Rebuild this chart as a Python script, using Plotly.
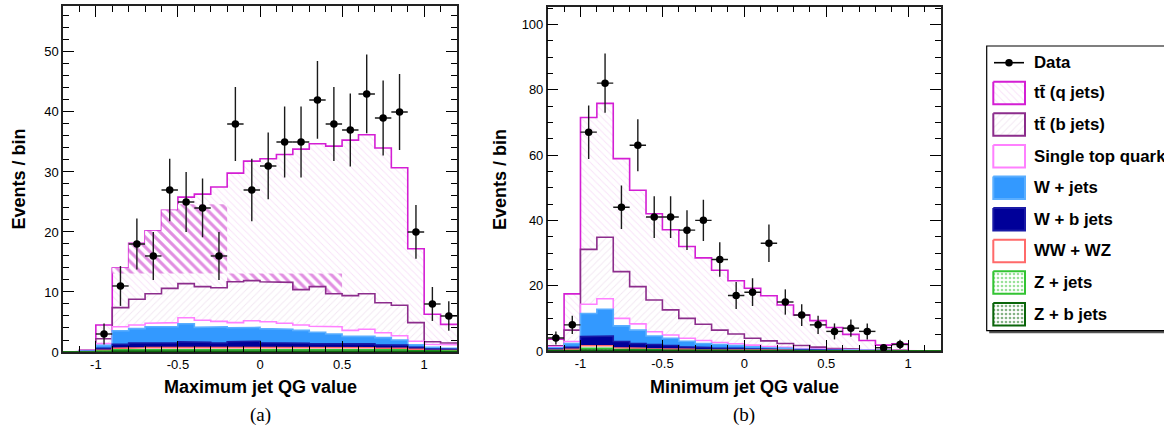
import numpy as np
import plotly.graph_objects as go

# ---------------------------------------------------------------------------
# Binning: 24 bins of width 0.1 on [-1.2, 1.2]
# ---------------------------------------------------------------------------
bin_edges = np.round(np.linspace(-1.2, 1.2, 25), 3)
bin_centers = 0.5 * (bin_edges[:-1] + bin_edges[1:])

# ---------------------------------------------------------------------------
# (a) Maximum jet QG value -- expected yields per process and observed data
# ---------------------------------------------------------------------------
max_data = [0, 0, 3, 11, 18, 16, 27, 25, 24, 16, 38, 27, 31, 35, 35, 42, 38, 37, 43, 39, 40, 20, 8, 6]
max_ttq = [0, 0.05, 2.3, 6.6, 9.3, 10.5, 13.0, 14.4, 15.4, 16.8, 18.1, 19.9, 20.5, 21.3, 23.4, 23.8, 24.6, 25.9, 26.5, 25.8, 22.9, 12.3, 4.6, 3.1]
max_ttb = [0, 0.05, 0.8, 3.2, 4.3, 4.9, 5.7, 5.7, 5.6, 5.6, 6.8, 6.7, 6.65, 6.8, 5.9, 6.6, 5.5, 5.8, 5.9, 5.0, 5.1, 3.1, 0.4, 0.3]
max_single_top = [0, 0.05, 0.3, 0.65, 0.6, 0.6, 0.7, 1.0, 1.2, 0.9, 0.85, 1.1, 1.15, 1.0, 0.9, 1.0, 1.2, 1.0, 1.2, 0.8, 0.7, 0.6, 0.5, 0.6]
max_wjets = [0, 0.05, 0.5, 2.25, 2.4, 2.65, 2.7, 3.0, 2.5, 2.7, 2.35, 2.3, 2.35, 2.3, 2.15, 1.9, 1.6, 1.3, 1.25, 1.2, 0.85, 0.4, 0.25, 0.15]
max_wbjets = [0, 0.05, 0.3, 0.7, 0.8, 0.8, 0.75, 0.9, 0.85, 0.75, 0.9, 1.0, 0.8, 0.75, 0.7, 0.7, 0.7, 0.6, 0.65, 0.55, 0.55, 0.35, 0.25, 0.2]
max_wwwz = [0, 0.02, 0.15, 0.25, 0.3, 0.3, 0.3, 0.35, 0.3, 0.3, 0.35, 0.35, 0.3, 0.3, 0.3, 0.3, 0.3, 0.3, 0.3, 0.25, 0.25, 0.2, 0.1, 0.1]
max_zjets = [0, 0.02, 0.1, 0.2, 0.25, 0.25, 0.25, 0.25, 0.25, 0.25, 0.25, 0.25, 0.25, 0.25, 0.25, 0.2, 0.2, 0.2, 0.2, 0.2, 0.2, 0.15, 0.1, 0.1]
max_zbjets = [0, 0.01, 0.05, 0.15, 0.15, 0.2, 0.2, 0.2, 0.2, 0.2, 0.2, 0.2, 0.2, 0.2, 0.2, 0.2, 0.2, 0.2, 0.2, 0.2, 0.15, 0.1, 0.1, 0.05]

# ---------------------------------------------------------------------------
# (b) Minimum jet QG value
# ---------------------------------------------------------------------------
min_data = [4, 8, 67, 82, 44, 63, 41, 41, 37, 40, 28, 17, 18, 33, 15, 11, 8, 6, 7, 6, 1, 2, 0, 0]
min_ttq = [2.0, 11.1, 40.4, 41.0, 34.6, 29.5, 26.4, 24.5, 22.0, 20.3, 18.3, 16.3, 15.3, 13.8, 11.8, 9.3, 8.1, 6.4, 4.5, 2.8, 1.5, 2.0, 0, 0]
min_ttb = [0.3, 3.5, 16.8, 18.8, 14.3, 11.4, 9.7, 7.7, 6.1, 5.0, 3.8, 3.0, 2.1, 1.7, 1.2, 0.9, 0.6, 0.3, 0.2, 0.1, 0.1, 0.1, 0, 0]
min_single_top = [0.3, 0.6, 2.8, 3.2, 2.3, 1.9, 1.3, 1.0, 0.9, 0.9, 0.6, 0.5, 0.5, 0.4, 0.3, 0.2, 0.2, 0.15, 0.1, 0.1, 0.05, 0, 0, 0]
min_wjets = [0.4, 1.2, 7.1, 8.2, 4.8, 4.1, 2.6, 2.2, 1.7, 1.2, 1.1, 0.9, 0.65, 0.5, 0.4, 0.3, 0.15, 0.15, 0.15, 0.1, 0.05, 0.05, 0, 0]
min_wbjets = [0.4, 0.55, 2.8, 3.0, 1.9, 1.5, 1.3, 1.15, 0.8, 0.7, 0.5, 0.5, 0.4, 0.3, 0.2, 0.15, 0.15, 0.11, 0.08, 0.04, 0.06, 0.03, 0, 0]
min_wwwz = [0.1, 0.3, 0.8, 0.8, 0.5, 0.4, 0.35, 0.3, 0.25, 0.2, 0.2, 0.15, 0.15, 0.1, 0.1, 0.07, 0.05, 0.05, 0.03, 0.03, 0.02, 0.01, 0, 0]
min_zjets = [0.05, 0.15, 0.5, 0.5, 0.3, 0.25, 0.2, 0.15, 0.15, 0.1, 0.1, 0.1, 0.05, 0.05, 0.05, 0.05, 0.03, 0.02, 0.02, 0.02, 0.01, 0.01, 0, 0]
min_zbjets = [0.05, 0.1, 0.3, 0.3, 0.2, 0.15, 0.15, 0.1, 0.1, 0.1, 0.1, 0.05, 0.05, 0.05, 0.05, 0.03, 0.02, 0.02, 0.02, 0.01, 0.01, 0, 0, 0]

# Axis tick labels
x_tick_vals = [-1, -0.5, 0, 0.5, 1]
x_tick_text = ["-1", "-0.5", "0", "0.5", "1"]
max_y_tick_vals = [0, 10, 20, 30, 40, 50]
min_y_tick_vals = [0, 20, 40, 60, 80, 100]

legend_labels = ["Data", "tt\u0304 (q jets)", "tt\u0304 (b jets)", "Single top quark",
                 "W + jets", "W + b jets", "WW + WZ", "Z + jets", "Z + b jets"]

# ---------------------------------------------------------------------------
# Styles (stack order: bottom -> top)
# ---------------------------------------------------------------------------
STACK_KEYS = ["zb", "zj", "ww", "wb", "wj", "st", "ttb", "ttq"]
STYLE = {
    "ttq": dict(line="#d41ed4", fill="white", pattern=dict(shape="\\", fgcolor="#f2c4f2", bgcolor="white", size=5, solidity=0.18)),
    "ttb": dict(line="#8c2d8c", fill="white", pattern=dict(shape="/", fgcolor="#e6d0e6", bgcolor="white", size=5, solidity=0.18)),
    "st":  dict(line="#ff80ff", fill="white", pattern=None),
    "wj":  dict(line="#5aaeff", fill="#3399ff", pattern=None),
    "wb":  dict(line="#1a1aa6", fill="#000099", pattern=None),
    "ww":  dict(line="#ff6a6a", fill="white", pattern=None),
    "zj":  dict(line="#33c433", fill="white", pattern=dict(shape=".", fgcolor="#33c433", bgcolor="white", size=4, solidity=0.35)),
    "zb":  dict(line="#0a650a", fill="white", pattern=dict(shape=".", fgcolor="#0a650a", bgcolor="white", size=4, solidity=0.35)),
}

# Dense rendering tiles of the tt (q jets) hatch in panel (a): (x0, x1, y0, y1)
TTQ_DENSE_TILES = [(-0.9, -0.2, 13.1, 24.6), (-0.2, 0.5, 0.0, 13.1)]

# Page size; layout positions below are given on a 1164 x 433 design grid
W, H = 1164, 441
GRID_H = 433


def step_xy(values):
    xs = np.repeat(bin_edges, 2)[1:-1]
    ys = np.repeat(np.asarray(values, float), 2)
    return xs, ys


def px(x):
    return x / W


def py(y):
    return 1 - y / GRID_H


fig = go.Figure()


def add_panel(layers, data, xa, ya, dense_tiles=()):
    stack = np.cumsum(np.array([layers[k] for k in STACK_KEYS], float), axis=0)
    total = stack[-1]
    for idx in range(len(STACK_KEYS) - 1, -1, -1):
        key = STACK_KEYS[idx]
        st = STYLE[key]
        xs, ys = step_xy(stack[idx])
        kw = dict(x=xs, y=ys, mode="lines", fill="tozeroy", fillcolor=st["fill"],
                  line=dict(color=st["line"], width=1.6), xaxis=xa, yaxis=ya,
                  showlegend=False, hoverinfo="skip")
        if st["pattern"]:
            kw["fillpattern"] = st["pattern"]
        fig.add_trace(go.Scatter(**kw))
        if key == "ttq":
            for (x0, x1, y0, y1) in dense_tiles:
                sel = (bin_edges[:-1] >= x0 - 1e-9) & (bin_edges[1:] <= x1 + 1e-9)
                e = bin_edges[np.r_[sel, False] | np.r_[False, sel]]
                v = np.clip(total[sel], y0, y1)
                tx = list(np.repeat(e, 2)[1:-1]) + [x1, x0]
                ty = list(np.repeat(v, 2)) + [y0, y0]
                fig.add_trace(go.Scatter(
                    x=tx, y=ty, mode="lines", fill="toself", fillcolor="white",
                    fillpattern=dict(shape="\\", fgcolor="#c41ec4", bgcolor="white", size=7, solidity=0.45),
                    line=dict(width=0), xaxis=xa, yaxis=ya, showlegend=False, hoverinfo="skip"))
    d = np.asarray(data, float)
    m = d > 0
    fig.add_trace(go.Scatter(
        x=bin_centers[m], y=d[m], mode="markers",
        marker=dict(color="black", size=7.5),
        error_y=dict(type="data", array=np.sqrt(d[m]), color="#1a1a1a", thickness=1.4, width=0),
        error_x=dict(type="constant", value=0.05, color="#1a1a1a", thickness=1.4, width=0),
        xaxis=xa, yaxis=ya, showlegend=False, hoverinfo="skip"))


max_layers = dict(ttq=max_ttq, ttb=max_ttb, st=max_single_top, wj=max_wjets, wb=max_wbjets,
                  ww=max_wwwz, zj=max_zjets, zb=max_zbjets)
min_layers = dict(ttq=min_ttq, ttb=min_ttb, st=min_single_top, wj=min_wjets, wb=min_wbjets,
                  ww=min_wwwz, zj=min_zjets, zb=min_zbjets)

add_panel(max_layers, max_data, "x", "y", TTQ_DENSE_TILES)
add_panel(min_layers, min_data, "x2", "y2")

# ---------------------------------------------------------------------------
# Legend drawn on a design-grid overlay axis
# ---------------------------------------------------------------------------
leg_x0, leg_y0, leg_y1 = 986.7, 46, 330.7
box_x0, box_x1 = 993.3, 1025.0
row_top0, row_pitch, box_h = 81.7, 31.6, 22.5
legend_keys = ["ttq", "ttb", "st", "wj", "wb", "ww", "zj", "zb"]

for k, key in enumerate(legend_keys):
    st = STYLE[key]
    t = row_top0 + k * row_pitch
    b = t + box_h
    kw = dict(x=[box_x0, box_x1, box_x1, box_x0, box_x0], y=[t, t, b, b, t],
              mode="lines", fill="toself", fillcolor=st["fill"],
              line=dict(color=st["line"], width=2), xaxis="x3", yaxis="y3",
              showlegend=False, hoverinfo="skip")
    if st["pattern"]:
        kw["fillpattern"] = st["pattern"]
    fig.add_trace(go.Scatter(**kw))

data_row_y = 62.7
fig.add_trace(go.Scatter(x=[994, 1024], y=[data_row_y, data_row_y], mode="lines",
                         line=dict(color="black", width=1.6), xaxis="x3", yaxis="y3",
                         showlegend=False, hoverinfo="skip"))
fig.add_trace(go.Scatter(x=[1009], y=[data_row_y], mode="markers",
                         marker=dict(color="black", size=7.5), xaxis="x3", yaxis="y3",
                         showlegend=False, hoverinfo="skip"))

annotations = []
text_font = dict(family="Liberation Sans, Arial, sans-serif", size=16.8, color="black")
row_centers = [data_row_y] + [row_top0 + k * row_pitch + box_h / 2 for k in range(8)]
for label, yc in zip(legend_labels, row_centers):
    annotations.append(dict(x=1032, y=yc, xref="x3", yref="y3", text="<b>%s</b>" % label,
                            showarrow=False, xanchor="left", yanchor="middle", font=text_font))

shapes = [
    # legend shadow and frame
    dict(type="rect", xref="x3", yref="y3", x0=leg_x0 + 2.5, x1=1200, y0=leg_y0 + 2.5, y1=leg_y1 + 2.5,
         fillcolor="#555555", line=dict(width=0), layer="below"),
    dict(type="rect", xref="x3", yref="y3", x0=leg_x0, x1=1200, y0=leg_y0, y1=leg_y1,
         fillcolor="white", line=dict(color="black", width=1.2), layer="below"),
]

# Axis titles and panel captions
title_font = dict(family="Liberation Sans, Arial, sans-serif", size=18, color="black")
annotations += [
    dict(x=px(260), y=py(387), xref="paper", yref="paper", text="<b>Maximum jet QG value</b>",
         showarrow=False, xanchor="center", yanchor="middle", font=title_font),
    dict(x=px(744.5), y=py(387), xref="paper", yref="paper", text="<b>Minimum jet QG value</b>",
         showarrow=False, xanchor="center", yanchor="middle", font=title_font),
    dict(x=px(18.5), y=py(179), xref="paper", yref="paper", text="<b>Events / bin</b>", textangle=-90,
         showarrow=False, xanchor="center", yanchor="middle", font=title_font),
    dict(x=px(500), y=py(179), xref="paper", yref="paper", text="<b>Events / bin</b>", textangle=-90,
         showarrow=False, xanchor="center", yanchor="middle", font=title_font),
    dict(x=px(260), y=py(415), xref="paper", yref="paper", text="(a)",
         showarrow=False, xanchor="center", yanchor="middle",
         font=dict(family="Liberation Serif, Times New Roman, serif", size=19, color="black")),
    dict(x=px(744.5), y=py(415), xref="paper", yref="paper", text="(b)",
         showarrow=False, xanchor="center", yanchor="middle",
         font=dict(family="Liberation Serif, Times New Roman, serif", size=19, color="black")),
]

tick_font = dict(family="Liberation Sans, Arial, sans-serif", size=13, color="black")


def x_axis(domain, anchor):
    return dict(domain=domain, anchor=anchor, range=[-1.2, 1.2], tickmode="array",
                tickvals=x_tick_vals, ticktext=x_tick_text, ticks="inside", ticklen=11,
                tickwidth=1.2, tickcolor="black", showline=True, linecolor="#222222",
                linewidth=1.5, mirror="allticks", showgrid=False, zeroline=False,
                tickfont=tick_font,
                minor=dict(tickmode="linear", tick0=0, dtick=0.1, ticks="inside", ticklen=6,
                           tickwidth=1.2, tickcolor="black", showgrid=False))


def y_axis(domain, anchor, top, ticks, minor_step):
    return dict(domain=domain, anchor=anchor, range=[0, top], tickmode="array",
                tickvals=ticks, ticktext=[str(v) for v in ticks], ticks="inside", ticklen=11,
                tickwidth=1.2, tickcolor="black", showline=True, linecolor="#222222",
                linewidth=1.5, mirror="allticks", showgrid=False, zeroline=False,
                tickfont=tick_font,
                minor=dict(tickmode="linear", tick0=0, dtick=minor_step, ticks="inside", ticklen=6,
                           tickwidth=1.2, tickcolor="black", showgrid=False))


fig.update_layout(
    width=W, height=H, autosize=False, margin=dict(l=0, r=0, t=0, b=0, pad=0),
    paper_bgcolor="white", plot_bgcolor="white", showlegend=False,
    xaxis=x_axis([63 / W, 457 / W], "y"),
    yaxis=y_axis([py(352), py(6.3)], "x", 57.6, max_y_tick_vals, 2),
    xaxis2=x_axis([547.7 / W, 941 / W], "y2"),
    yaxis2=y_axis([py(351), py(6.7)], "x2", 105.4, min_y_tick_vals, 5),
    xaxis3=dict(domain=[980 / W, 1], anchor="y3", range=[980, W], visible=False, fixedrange=True),
    yaxis3=dict(domain=[0, 1], anchor="x3", range=[GRID_H, 0], visible=False, fixedrange=True),
    annotations=annotations, shapes=shapes,
)

fig.write_html("out.html", config={"responsive": False},
               default_width="%dpx" % W, default_height="%dpx" % H)
